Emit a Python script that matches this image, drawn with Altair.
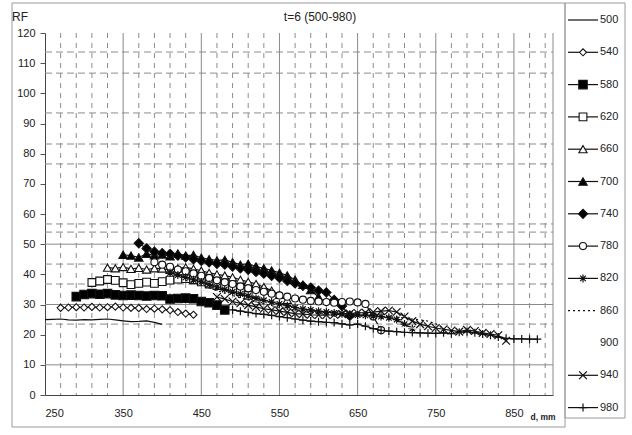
import altair as alt
import pandas as pd

# ---------------- data ----------------
SERIES = ["500", "540", "580", "620", "660", "700", "740", "780", "820", "860", "900", "940", "980"]
START_D = [250, 270, 290, 310, 330, 350, 370, 390, 410, 430, 450, 470, 490]
STEP_D = 10

RF_500 = [25.0, 25.1, 25.2, 24.9, 24.8, 25.0, 24.9, 25.1, 25.2, 24.9, 24.6, 24.3, 24.4, 24.6, 24.1, 23.4]
RF_540 = [28.9, 29.0, 29.1, 29.0, 29.2, 29.0, 29.1, 29.3, 29.0, 28.9, 28.8, 28.5, 28.6, 28.4, 28.1, 27.5, 27.0, 26.6]
RF_580 = [32.6, 33.3, 33.6, 33.4, 33.6, 33.2, 33.0, 33.1, 33.0, 32.8, 33.0, 32.9, 31.8, 32.0, 32.1, 31.9, 31.0, 30.6, 29.8, 28.2]
RF_620 = [37.3, 37.8, 38.3, 38.0, 37.2, 36.6, 37.0, 37.4, 37.0, 37.6, 38.1, 38.4, 38.6, 38.2, 37.5, 36.8, 36.3, 36.0, 35.2, 34.3, 33.0, 31.2]
RF_660 = [42.2, 42.0, 42.4, 41.8, 42.1, 41.6, 42.0, 41.9, 41.5, 42.0, 42.3, 41.8, 41.2, 40.5, 40.0, 39.6, 39.0, 38.2, 37.5, 36.8, 35.8, 34.6, 33.2, 31.5]
RF_700 = [46.5, 46.2, 45.6, 46.8, 46.3, 46.6, 46.0, 46.9, 46.2, 46.4, 45.5, 45.0, 44.6, 44.8, 44.0, 43.2, 43.5, 42.6, 42.0, 41.3, 40.5, 39.6, 38.2, 36.5, 34.8, 32.5]
RF_740 = [50.3, 48.6, 47.5, 47.0, 46.8, 46.2, 45.6, 45.0, 44.5, 44.0, 43.5, 43.2, 42.6, 42.0, 41.5, 40.8, 40.2, 39.5, 38.8, 37.8, 37.0, 36.2, 35.6, 34.6, 34.0, 31.5, 29.5, 26.2]
RF_780 = [44.0, 43.2, 42.5, 41.6, 41.0, 40.3, 39.5, 38.8, 38.0, 37.4, 36.8, 36.0, 35.4, 34.8, 34.2, 33.6, 33.0, 32.6, 32.0, 31.6, 31.2, 31.0, 30.8, 30.6, 30.8, 31.0, 30.7, 30.2, 26.0, 21.5]
RF_820 = [40.5, 39.8, 39.0, 38.2, 37.5, 36.6, 35.8, 35.0, 34.2, 33.5, 32.8, 32.0, 31.4, 30.8, 30.2, 29.6, 29.0, 28.5, 28.2, 27.8, 27.5, 27.2, 27.0, 26.8, 26.5, 26.4, 26.2, 26.0, 25.6, 25.0, 23.5, 22.0]
RF_860 = [38.0, 37.2, 36.4, 35.5, 34.6, 33.8, 33.0, 32.2, 31.5, 30.8, 30.2, 29.6, 29.0, 28.5, 28.0, 27.6, 27.3, 27.0, 26.8, 26.7, 26.6, 26.6, 26.5, 26.4, 26.3, 26.2, 26.0, 25.8, 25.5, 25.2, 24.9, 24.5, 23.6, 22.0]
RF_900 = [35.0, 34.2, 33.4, 32.6, 31.8, 31.0, 30.3, 29.6, 29.0, 28.4, 27.8, 27.3, 26.8, 26.4, 26.0, 25.6, 25.2, 24.9, 24.6, 24.3, 24.0, 23.7, 23.4, 23.1, 22.8, 22.6, 22.4, 22.2, 22.0, 21.8, 21.6, 21.4, 21.2, 21.0, 20.6, 20.0]
RF_940 = [32.5, 31.8, 31.0, 30.4, 29.8, 29.2, 28.6, 28.2, 27.8, 27.4, 27.0, 26.8, 26.6, 26.5, 26.5, 26.6, 26.8, 27.0, 27.2, 27.3, 27.5, 27.8, 28.0, 27.5, 26.0, 24.5, 23.5, 22.8, 22.2, 21.8, 21.4, 21.0, 21.6, 21.2, 20.6, 20.2, 19.8, 18.0]
RF_980 = [28.2, 27.8, 27.4, 27.0, 26.7, 26.4, 26.0, 25.6, 25.2, 24.8, 24.5, 24.3, 24.1, 24.0, 23.6, 23.2, 23.5, 22.8, 22.0, 21.4, 21.2, 21.0, 20.8, 20.7, 20.6, 20.5, 20.4, 20.6, 20.3, 20.8, 21.0, 20.6, 20.2, 19.8, 19.2, 18.8, 18.6, 18.6, 18.5, 18.5]

RF_ALL = [RF_500, RF_540, RF_580, RF_620, RF_660, RF_700, RF_740, RF_780, RF_820, RF_860, RF_900, RF_940, RF_980]

X_TICKS = [250, 350, 450, 550, 650, 750, 850]
Y_TICKS = [0, 10, 20, 30, 40, 50, 60, 70, 80, 90, 100, 110, 120]
V_SOLID = [350, 450, 550, 650, 750, 850, 900]
V_DASH = [270, 290, 310, 330, 370, 390, 410, 430, 470, 490, 510, 530, 570, 590, 610, 630,
          670, 690, 710, 730, 770, 790, 810, 830, 870, 890]
H_SOLID = [10, 30, 50]
H_DASH = [113.7, 106.7, 93.5, 83.2, 76.6, 56.7, 54.0, 43.4, 36.8, 23.5]

# ---------------- styles ----------------
ASTER = "M-1,0L1,0M0,-1L0,1M-0.7,-0.7L0.7,0.7M-0.7,0.7L0.7,-0.7"
XSHAPE = "M-1,-1L1,1M-1,1L1,-1"
PLUS = "M-1,0L1,0M0,-1L0,1"
STYLE = {
    "500": dict(shape=None),
    "540": dict(shape="diamond", fill="white", size=50),
    "580": dict(shape="square", fill="black", size=72),
    "620": dict(shape="square", fill="white", size=60),
    "660": dict(shape="triangle-up", fill="white", size=68),
    "700": dict(shape="triangle-up", fill="black", size=72),
    "740": dict(shape="diamond", fill="black", size=85),
    "780": dict(shape="circle", fill="white", size=50),
    "820": dict(shape=ASTER, fill=None, size=64),
    "860": dict(shape=None, dash=[2, 3]),
    "900": dict(shape=None, hidden=True),
    "940": dict(shape=XSHAPE, fill=None, size=60),
    "980": dict(shape=PLUS, fill=None, size=64),
}

W, H = 508, 362
PL, PT = 45, 33
FONT = "Liberation Sans"

xs = alt.Scale(domain=[250, 900], nice=False, zero=False)
ys = alt.Scale(domain=[0, 120], nice=False, zero=True)
AX = alt.Axis(values=X_TICKS, format="d", ticks=False, labelPadding=12, labelFontSize=11,
              labelColor="#222", labelFont=FONT, domainColor="#444", grid=False, title=None,
              labelOverlap=False)
AY = alt.Axis(values=Y_TICKS, format="d", tickSize=5, tickColor="#555", labelPadding=5,
              labelFontSize=11, labelColor="#222", labelFont=FONT, domainColor="#444",
              grid=False, title=None, labelOverlap=False)

one = pd.DataFrame({"k": [0]})
layers = []

# frames
layers.append(alt.Chart(one).mark_rect(fillOpacity=0, stroke="#9a9a9a", strokeWidth=1).encode(
    x=alt.value(12 - PL), x2=alt.value(565 - PL), y=alt.value(3 - PT), y2=alt.value(427 - PT)))
layers.append(alt.Chart(one).mark_rect(fillOpacity=0, stroke="#9a9a9a", strokeWidth=1).encode(
    x=alt.value(565 - PL), x2=alt.value(625 - PL), y=alt.value(3 - PT), y2=alt.value(418 - PT)))

# grid
layers.append(alt.Chart(pd.DataFrame({"v": V_DASH})).mark_rule(
    color="#8c8c8c", strokeWidth=1, strokeDash=[5, 5]).encode(
    x=alt.X("v:Q", scale=xs, axis=AX), y=alt.value(0), y2=alt.value(H)))
layers.append(alt.Chart(pd.DataFrame({"v": H_DASH})).mark_rule(
    color="#8c8c8c", strokeWidth=1, strokeDash=[7, 4]).encode(
    y=alt.Y("v:Q", scale=ys, axis=AY), x=alt.value(0), x2=alt.value(W)))
layers.append(alt.Chart(pd.DataFrame({"v": V_SOLID})).mark_rule(
    color="#8a8a8a", strokeWidth=1).encode(
    x=alt.X("v:Q", scale=xs, axis=AX), y=alt.value(0), y2=alt.value(H)))
layers.append(alt.Chart(pd.DataFrame({"v": H_SOLID})).mark_rule(
    color="#8a8a8a", strokeWidth=1).encode(
    y=alt.Y("v:Q", scale=ys, axis=AY), x=alt.value(0), x2=alt.value(W)))

# series
for name, start, vals in zip(SERIES, START_D, RF_ALL):
    st = STYLE[name]
    df = pd.DataFrame({"d": [start + STEP_D * i for i in range(len(vals))], "rf": vals})
    enc = dict(x=alt.X("d:Q", scale=xs, axis=AX), y=alt.Y("rf:Q", scale=ys, axis=AY))
    lkw = dict(color="#eeeeee" if st.get("hidden") else "#111", strokeWidth=1.2)
    if st.get("dash"):
        lkw["strokeDash"] = st["dash"]
    layers.append(alt.Chart(df).mark_line(**lkw).encode(**enc))
    if st.get("shape"):
        if st["fill"] is None:
            pm = alt.Chart(df).mark_point(shape=st["shape"], filled=False, stroke="#111",
                                          strokeWidth=1.2, size=st["size"], opacity=1)
        else:
            pm = alt.Chart(df).mark_point(shape=st["shape"], filled=True, fill=st["fill"],
                                          stroke="#111", strokeWidth=1.1, size=st["size"], opacity=1)
        layers.append(pm.encode(**enc))

# legend
for i, name in enumerate(SERIES):
    st = STYLE[name]
    ly = 20 - PT + i * 32.3
    if not st.get("hidden"):
        rk = dict(color="#111", strokeWidth=1.2)
        if st.get("dash"):
            rk["strokeDash"] = st["dash"]
        layers.append(alt.Chart(one).mark_rule(**rk).encode(
            x=alt.value(568 - PL), x2=alt.value(598 - PL), y=alt.value(ly)))
        if st.get("shape"):
            if st["fill"] is None:
                pm = alt.Chart(one).mark_point(shape=st["shape"], filled=False, stroke="#111",
                                               strokeWidth=1.2, size=st["size"], opacity=1)
            else:
                pm = alt.Chart(one).mark_point(shape=st["shape"], filled=True, fill=st["fill"],
                                               stroke="#111", strokeWidth=1.1, size=st["size"], opacity=1)
            layers.append(pm.encode(x=alt.value(583 - PL), y=alt.value(ly)))
    layers.append(alt.Chart(pd.DataFrame({"t": [name]})).mark_text(
        align="left", baseline="middle", fontSize=11, font=FONT, color="#222").encode(
        x=alt.value(600 - PL), y=alt.value(ly), text="t:N"))

# texts
def label(txt, x, y, size, align="left", weight="normal"):
    return alt.Chart(pd.DataFrame({"t": [txt]})).mark_text(
        align=align, baseline="middle", fontSize=size, font=FONT, color="#222",
        fontWeight=weight).encode(x=alt.value(x - PL), y=alt.value(y - PT), text="t:N")

layers.append(label("RF", 12, 17, 12))
layers.append(label("t=6 (500-980)", 320, 17, 12, align="center"))
layers.append(label("d, mm", 543, 417, 8.5, align="center", weight="bold"))

chart = alt.layer(*layers).properties(
    width=W, height=H, autosize="none",
    padding={"left": PL, "top": PT, "right": 632 - PL - W, "bottom": 435 - PT - H},
    background="white",
).configure_view(stroke=None)

chart.save("out.html", embed_options={"renderer": "svg", "actions": False})
